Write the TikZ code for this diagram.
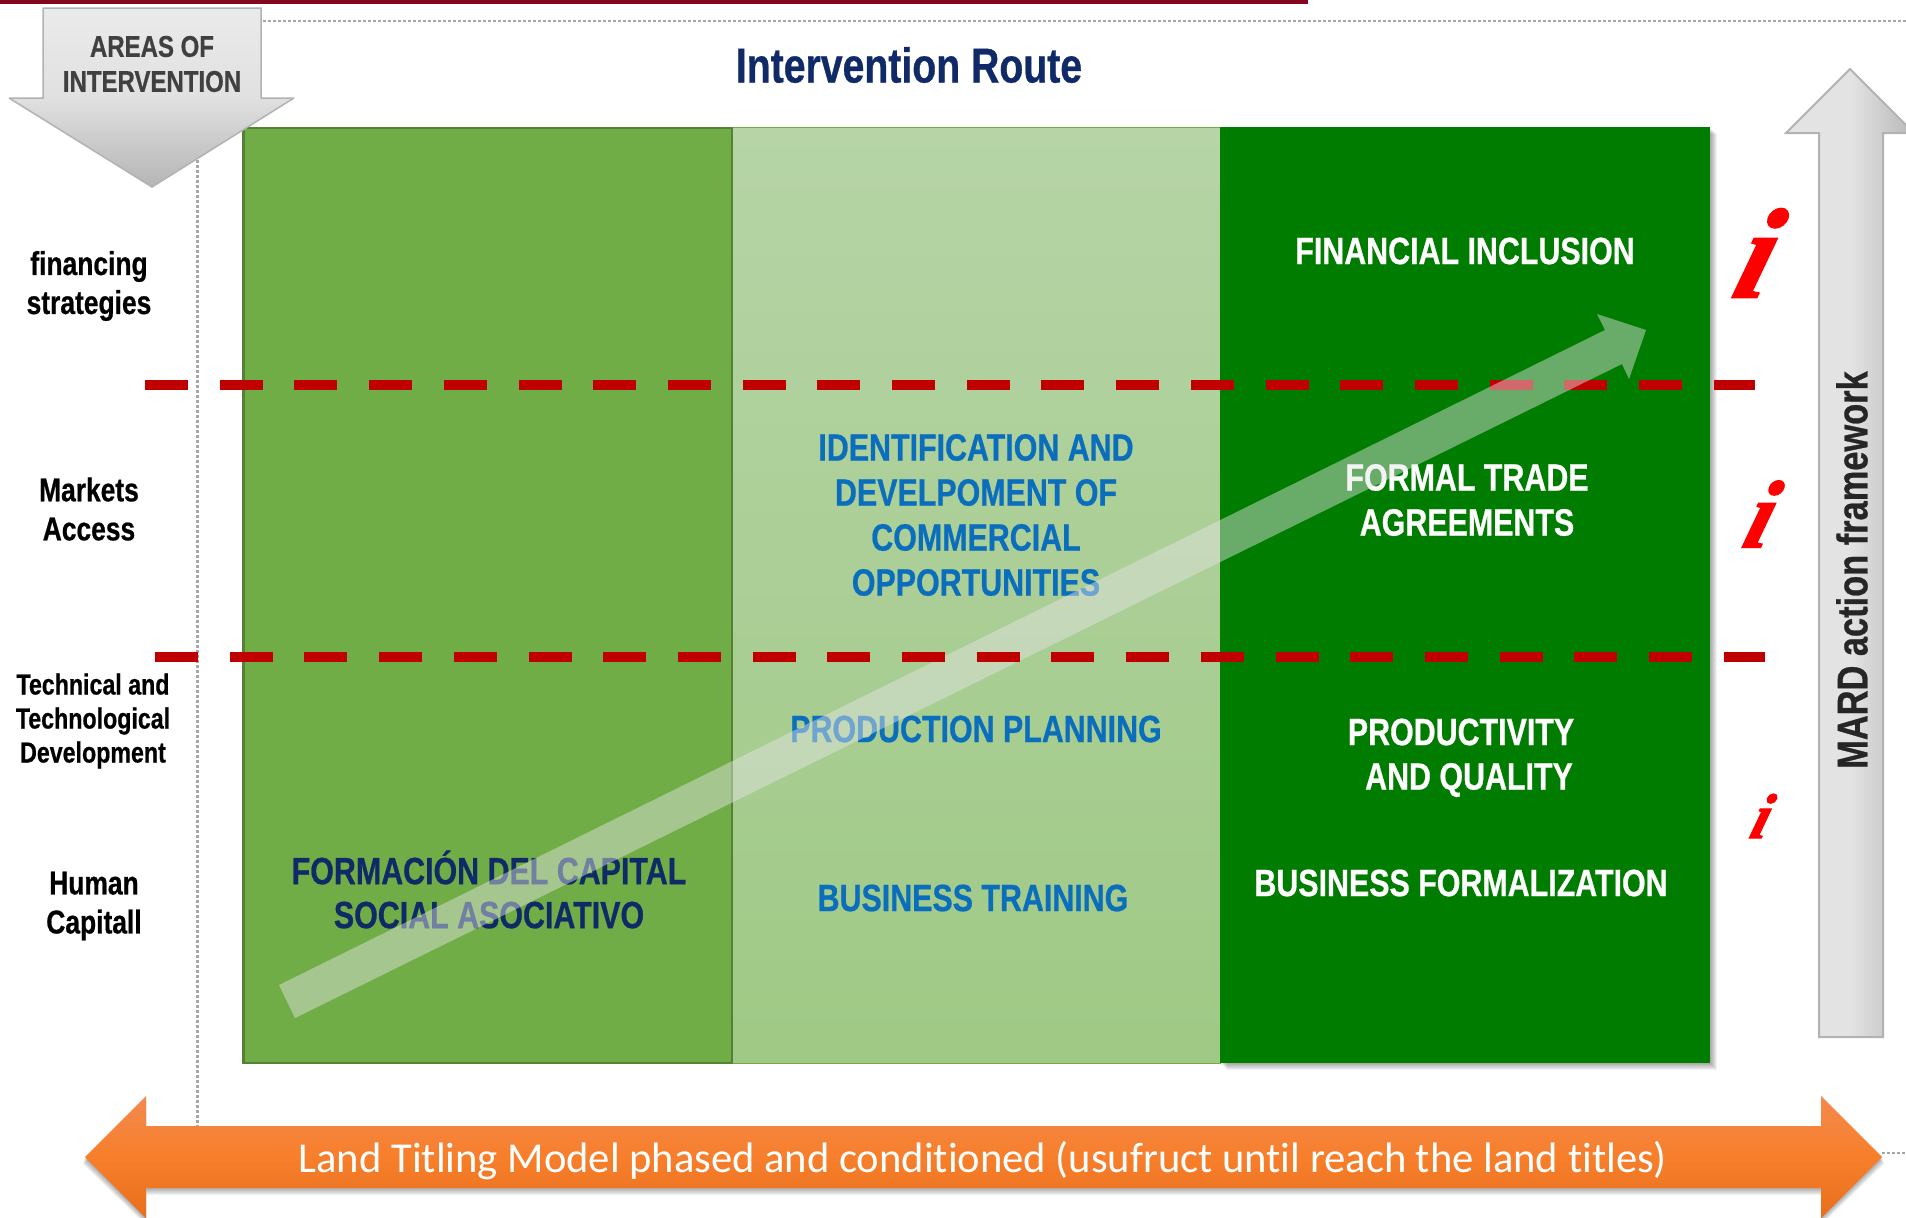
\documentclass[tikz,border=0pt]{standalone}
\usepackage{fontspec}
\setmainfont{Liberation Sans}[FakeStretch=0.8,BoldFeatures={FakeBold=0.6}]
\newfontfamily\calib{Carlito}[Ligatures=NoCommon]
\newfontfamily\serifi{Liberation Serif}[BoldItalicFeatures={FakeBold=1.5}]
\definecolor{barred}{HTML}{85061F}
\definecolor{dotgrey}{HTML}{A6A6A6}
\definecolor{leftgreen}{HTML}{70AD47}
\definecolor{leftedge}{HTML}{548235}
\definecolor{midtop}{HTML}{B6D4A6}
\definecolor{midbot}{HTML}{9FC985}
\definecolor{rightgreen}{HTML}{007D00}
\definecolor{dashred}{HTML}{C00000}
\definecolor{navy}{HTML}{0F2A66}
\definecolor{midblue}{HTML}{0A6EBD}
\tikzset{
  x=1pt,y=-1pt,
  dotline/.style={draw=dotgrey,line width=2.5pt,dash pattern=on 2.5pt off 2.5pt},
  redline/.style={draw=dashred,line width=10pt,dash pattern=on 43pt off 31.7pt},
  txt/.style={inner sep=0pt,align=center,font=\bfseries\fontsize{38}{45}\selectfont},
  wtxt/.style={txt,text=white},
  btxt/.style={txt,text=midblue},
  sidetxt/.style={inner sep=0pt,align=center,text=black,font=\bfseries\fontsize{33}{39}\selectfont},
  itxt/.style={inner sep=0pt,text=red,xslant=0.3,transform shape},
  greyarrow/.style={draw=black!30,line width=2pt},
}
\begin{document}
\begin{tikzpicture}
\useasboundingbox (0,0) rectangle (1906,1218);
\begin{scope}
\clip (0,0) rectangle (1906,1218);
% top rule and dotted guides
\fill[barred] (0,0) rectangle (1308,4);
\coordinate (dtA) at (263,21);
\coordinate (dtB) at (1906,21);
\draw[dotline] (dtA) -- (dtB);
\coordinate (dvA) at (197.5,160);
\coordinate (dvB) at (197.5,1126);
\draw[dotline] (dvA) -- (dvB);
\coordinate (drA) at (1882,1153);
\coordinate (drB) at (1906,1153);
\draw[dotline] (drA) -- (drB);
% panels
\foreach \i in {1,...,7}{
  \fill[black,opacity=0.055] (1220+\i,127+\i) rectangle (1710+\i,1063+\i);
}
\path[shade,top color=midtop,bottom color=midbot,draw=leftgreen,line width=1pt] (732,127) rectangle (1220,1063);
\fill[rightgreen] (1220,127) rectangle (1710,1063);
\draw[fill=leftgreen,draw=leftedge,line width=2.5pt] (243.5,128) rectangle (732,1063);
% upper red dashed separator
\coordinate (raA) at (145,385);
\coordinate (raB) at (1755,385);
\draw[redline] (raA) -- (raB);
% panel texts
\node[txt,text=navy,font=\bfseries\fontsize{38}{44}\selectfont] (t1) at (489,889.5) {FORMACIÓN DEL CAPITAL\\SOCIAL ASOCIATIVO};
\node[btxt] (t2) at (976,515) {IDENTIFICATION AND\\DEVELPOMENT OF\\COMMERCIAL\\OPPORTUNITIES};
\node[btxt] (t3) at (976,729) {PRODUCTION PLANNING};
\node[btxt] (t4) at (973,898) {BUSINESS TRAINING};
\node[wtxt] (t5) at (1465,251) {FINANCIAL INCLUSION};
\node[wtxt] (t6) at (1467,500) {FORMAL TRADE\\AGREEMENTS};
\node[wtxt] (t7) at (1461,732) {PRODUCTIVITY};
\node[wtxt] (t8) at (1469,780) {AND QUALITY};
\node[wtxt] (t9) at (1461,883) {BUSINESS FORMALIZATION};
% diagonal translucent arrow
\fill[black!10,opacity=0.46] (279,985) -- (1605,330) -- (1597,314) -- (1646,330) -- (1629,379) -- (1622,364) -- (295,1018) -- cycle;
% lower red dashed separator lies over the arrow
\coordinate (rbA) at (155,656.5);
\coordinate (rbB) at (1765,656.5);
\draw[redline] (rbA) -- (rbB);
% left labels
\node[sidetxt] (s1) at (89,286) {financing\\strategies};
\node[sidetxt] (s2) at (89,509) {Markets\\Access};
\node[sidetxt,font=\bfseries\fontsize{29}{34}\selectfont] (s3) at (93,721) {Technical and\\Technological\\Development};
\node[sidetxt] (s4) at (94,906) {Human\\Capitall};
% area arrow
\path[shade,top color=black!8,bottom color=black!29,middle color=black!12,greyarrow,line width=1.5pt,miter limit=2]
  (43,8) -- (261,8) -- (261,98) -- (294,98) -- (152,187) -- (9,98) -- (43,98) -- cycle;
\node[inner sep=0pt,align=center,text=black!75,font=\bfseries\fontsize{30}{35}\selectfont] (h1) at (152,64) {AREAS OF\\INTERVENTION};
% title
\node[inner sep=0pt,text=navy,font=\bfseries\fontsize{49}{53}\selectfont] (title) at (909,65) {Intervention Route};
% framework arrow
\path[shade,left color=black!11,right color=black!28,middle color=black!11,greyarrow]
  (1850,69) -- (1914,133) -- (1883,133) -- (1883,1037) -- (1819,1037) -- (1819,133) -- (1786,133) -- cycle;
\node[inner sep=0pt,rotate=90,text=black!85,font=\bfseries\fontsize{43}{47}\selectfont] (mard) at (1852,570) {MARD action framework};
% i marks
\node[itxt,font=\serifi\bfseries\itshape\fontsize{128}{128}\selectfont] (i1) at (1760,253) {i};
\node[itxt,font=\serifi\bfseries\itshape\fontsize{96}{96}\selectfont] (i2) at (1763,514) {i};
\node[itxt,font=\serifi\bfseries\itshape\fontsize{64}{64}\selectfont] (i3) at (1763,816) {i};
% orange arrow
\foreach \i in {1,...,7}{
  \fill[black,opacity=0.05] (85-\i*0.3,1157+\i) -- (146,1096+\i) -- (146,1126+\i) -- (1821,1126+\i) -- (1821,1096+\i) -- (1882+\i*0.3,1157+\i) -- (1821,1218+\i) -- (1821,1188+\i) -- (146,1188+\i) -- (146,1218+\i) -- cycle;
}
\path[shade,top color={rgb,255:red,243;green,137;blue,79},bottom color={rgb,255:red,232;green,110;blue,26},middle color={rgb,255:red,247;green,127;blue,43}]
  (85,1157) -- (146,1096) -- (146,1126) -- (1821,1126) -- (1821,1096) -- (1882,1157) -- (1821,1218) -- (1821,1188) -- (146,1188) -- (146,1218) -- cycle;
\node[inner sep=0pt,text=white,font=\calib\fontsize{42.6}{46}\selectfont] (land) at (983,1161) {Land Titling Model phased and conditioned (usufruct until reach the land titles)};
\end{scope}
\end{tikzpicture}
\end{document}
